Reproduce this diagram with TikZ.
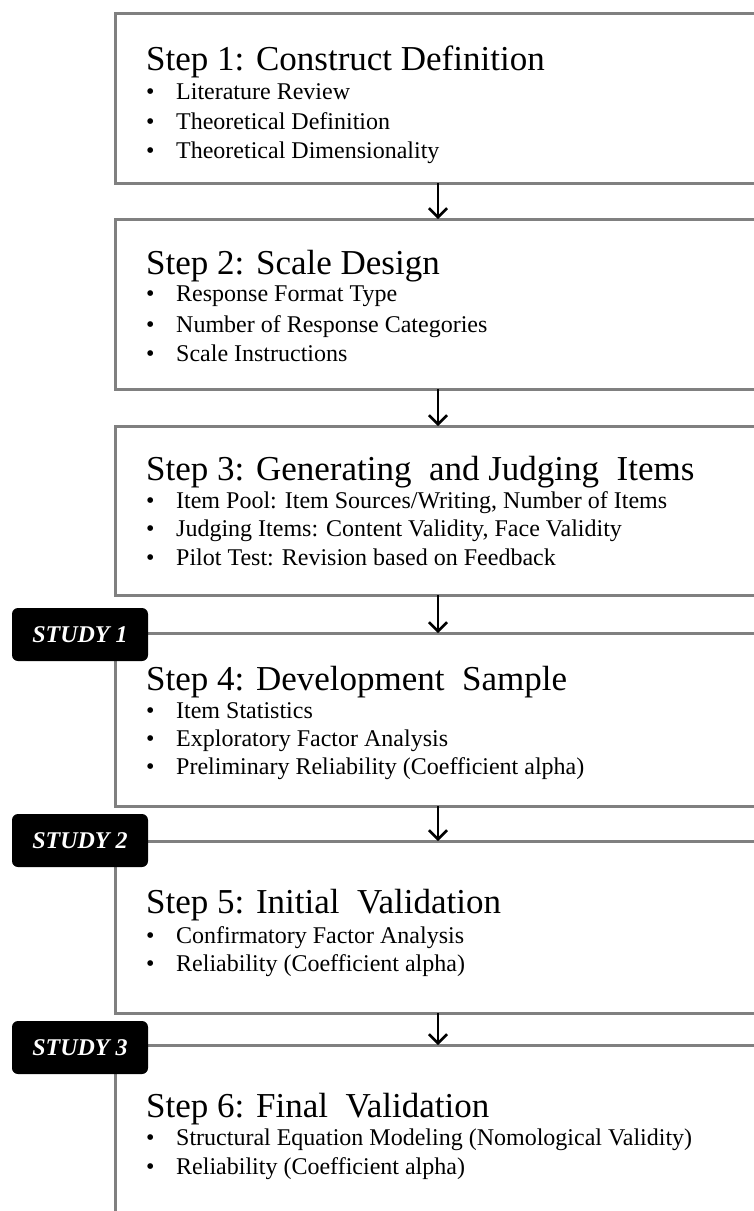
\documentclass[tikz,border=0pt]{standalone}
\usepackage{fontspec}
\setmainfont{Liberation Serif}
\usetikzlibrary{arrows.meta}

\begin{document}
\begin{tikzpicture}[
     x=1pt, y=-1pt,
     stepbox/.style={draw=gray, line width=3pt, anchor=north west, outer sep=0pt,
       inner sep=0pt, minimum width=720pt},
     steptitle/.style={anchor=base west, inner sep=0pt, font=\fontsize{35}{40}\selectfont},
     point/.style={anchor=base west, inner sep=0pt, font=\fontsize{24}{29}\selectfont,
       execute at begin node={\makebox[30pt][l]{\textbullet}}},
     study/.style={fill=black, rounded corners=6pt, minimum width=136pt, minimum height=53pt,
       inner sep=0pt, text=white, font=\fontsize{24}{28}\selectfont\bfseries\itshape},
     flow/.style={line width=2.6pt, -{Straight Barb[length=9pt,width=18pt]}}
   ]
   \path[use as bounding box, clip] (0,0) rectangle (754,1211);
   \coordinate (ax) at (438,0);
   % Step boxes, right edges run off the page.
   \node[stepbox, minimum height=170pt] (s1) at (115,13) {};
   \node[stepbox, minimum height=170pt] (s2) at (115,219) {};
   \node[stepbox, minimum height=169pt] (s3) at (115,426) {};
   \node[stepbox, minimum height=173pt] (s4) at (115,633) {};
   \node[stepbox, minimum height=172pt] (s5) at (115,841) {};
   \node[stepbox, minimum height=220pt] (s6) at (115,1045) {};
   % Step titles and their points.
   \node[steptitle] (t1) at (146,70) {Step 1: Construct Definition};
   \node[point] (p11) at (146,99) {Literature Review};
   \node[point] (p12) at (146,129) {Theoretical Definition};
   \node[point] (p13) at (146,158) {Theoretical Dimensionality};
   \node[steptitle] (t2) at (146,274) {Step 2: Scale Design};
   \node[point] (p21) at (146,301) {Response Format Type};
   \node[point] (p22) at (146,332) {Number of Response Categories};
   \node[point] (p23) at (146,361) {Scale Instructions};
   \node[steptitle] (t3) at (146,480) {Step 3: Generating\ \ and Judging\ \ Items};
   \node[point] (p31) at (146,508) {Item Pool: Item Sources/Writing, Number of Items};
   \node[point] (p32) at (146,536) {Judging Items: Content Validity, Face Validity};
   \node[point] (p33) at (146,565) {Pilot Test: Revision based on Feedback};
   \node[steptitle] (t4) at (146,690) {Step 4: Development\ \ Sample};
   \node[point] (p41) at (146,718) {Item Statistics};
   \node[point] (p42) at (146,746) {Exploratory Factor Analysis};
   \node[point] (p43) at (146,774) {Preliminary Reliability (Coefficient alpha)};
   \node[steptitle] (t5) at (146,913) {Step 5: Initial\ \ Validation};
   \node[point] (p51) at (146,943) {Confirmatory Factor Analysis};
   \node[point] (p52) at (146,971) {Reliability (Coefficient alpha)};
   \node[steptitle] (t6) at (146,1117) {Step 6: Final\ \ Validation};
   \node[point] (p61) at (146,1145) {Structural Equation Modeling (Nomological Validity)};
   \node[point] (p62) at (146,1174) {Reliability (Coefficient alpha)};
   % Study tags sit over the box corners.
   \node[study] (st1) at (80,634.5) {STUDY 1};
   \node[study] (st2) at (80,840.5) {STUDY 2};
   \node[study] (st3) at (80,1047.5) {STUDY 3};
   % Flow between steps.
   \foreach \a/\b in {s1/s2, s2/s3, s3/s4, s4/s5, s5/s6}
     \draw[flow] (\a.south -| ax) -- (\b.north -| ax);
\end{tikzpicture}
\end{document}
